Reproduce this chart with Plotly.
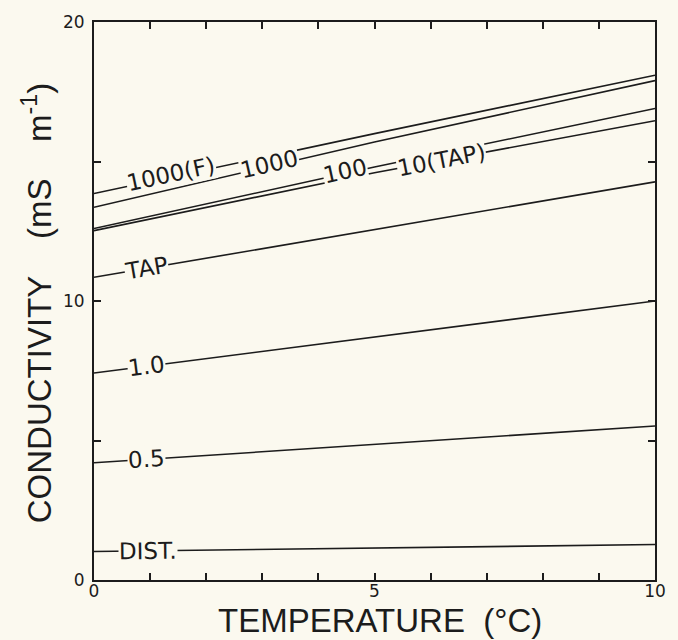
import numpy as np
import plotly.graph_objects as go

# ---- data ----
temperature = [0, 5, 10]
series_names = ["1000(F)", "1000", "100", "10(TAP)", "TAP", "1.0", "0.5", "DIST."]
cond_1000F = [13.85, 16.0, 18.09]
cond_1000 = [13.36, 15.7, 17.9]
cond_100 = [12.6, 14.8, 16.9]
cond_10tap = [12.52, 14.6, 16.46]
cond_tap = [10.85, 12.55, 14.27]
cond_1p0 = [7.42, 8.7, 10.0]
cond_0p5 = [4.2, 4.85, 5.52]
cond_dist = [1.02, 1.14, 1.27]
series_values = [cond_1000F, cond_1000, cond_100, cond_10tap,
                 cond_tap, cond_1p0, cond_0p5, cond_dist]

x_tickvals = list(range(0, 11))
x_ticktext = ["0", "", "", "", "", "5", "", "", "", "", "10"]
y_tickvals = [0, 5, 10, 15, 20]
y_ticktext = ["0", "", "10", "", "20"]

# label placement (style/layout)
label_x = [1.37, 3.13, 4.47, 6.2, 0.94, 0.93, 0.94, 0.96]
label_yshift = [3, 2, 3, 0, 0, 0, 0, 0]

BG = "#fbf9ef"
INK = "#1c1c1c"
W, H = 678, 640
ML, MR, MT, MB = 94, 22, 14, 60
PW, PH = W - ML - MR, H - MT - MB
XR, YR = [0, 10], [0, 20]

fig = go.Figure()
for name, vals in zip(series_names, series_values):
    fig.add_trace(go.Scatter(x=temperature, y=vals, mode="lines", name=name,
                             line=dict(color=INK, width=1.6), hoverinfo="skip",
                             showlegend=False))

label_font = dict(family="DejaVu Sans, Liberation Sans, sans-serif", size=23, color=INK)
annotations = []
for name, vals, lx, ys in zip(series_names, series_values, label_x, label_yshift):
    ly = float(np.interp(lx, temperature, vals))
    slope_px = (vals[-1] - vals[0]) / (YR[1] - YR[0]) * PH / ((XR[1] - XR[0]) / (temperature[-1] - temperature[0]) * PW)
    ang = -np.degrees(np.arctan(slope_px))
    annotations.append(dict(x=lx, y=ly, xref="x", yref="y", text=name, showarrow=False,
                            font=label_font, bgcolor=BG, borderpad=0, textangle=ang,
                            xanchor="center", yanchor="middle", yshift=ys))

title_font = dict(family="Liberation Sans, Arial, sans-serif", size=33, color=INK)
annotations.append(dict(x=0, y=0.496, xref="paper", yref="paper",
                        text="CONDUCTIVITY\u00a0\u00a0\u00a0\u00a0(mS\u00a0\u00a0\u00a0\u00a0m<sup>-1</sup>)",
                        textangle=-90, showarrow=False, font=title_font,
                        xanchor="center", yanchor="middle", xshift=-57))
annotations.append(dict(x=0.509, y=0, xref="paper", yref="paper",
                        text="TEMPERATURE\u00a0\u00a0(°C)", showarrow=False, font=title_font,
                        xanchor="center", yanchor="middle", yshift=-40))

tick_font = dict(family="DejaVu Sans, Liberation Sans, sans-serif", size=17, color=INK)
axis_common = dict(showgrid=False, zeroline=False, showline=True, linecolor=INK,
                   linewidth=2, mirror="allticks", ticks="inside", ticklen=7,
                   tickwidth=1.6, tickcolor=INK, tickfont=tick_font, fixedrange=True)

fig.update_layout(
    width=W, height=H,
    margin=dict(l=ML, r=MR, t=MT, b=MB),
    paper_bgcolor=BG, plot_bgcolor=BG,
    xaxis=dict(range=XR, tickmode="array", tickvals=x_tickvals, ticktext=x_ticktext,
               ticklabelstandoff=-5, **axis_common),
    yaxis=dict(range=YR, tickmode="array", tickvals=y_tickvals, ticktext=y_ticktext,
               ticklabelstandoff=4, **axis_common),
    annotations=annotations,
)

fig.write_html("out.html")
